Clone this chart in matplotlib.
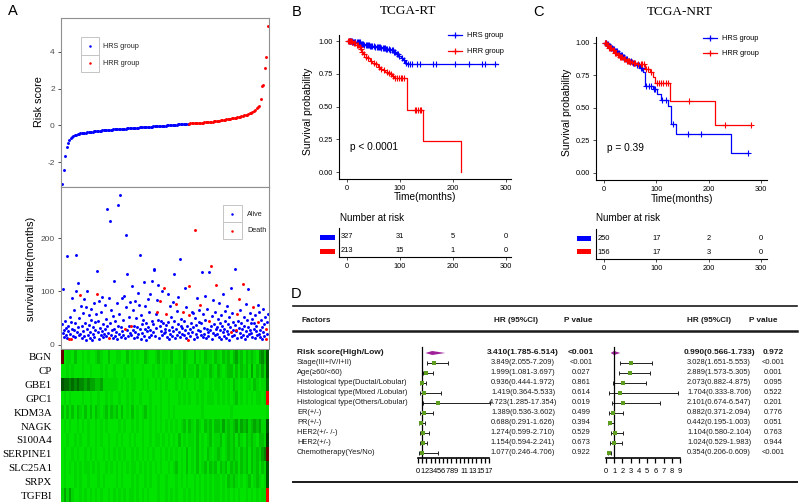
import numpy as np
import matplotlib
matplotlib.use("Agg")
import matplotlib.pyplot as plt
from matplotlib.colors import LinearSegmentedColormap, Normalize
from matplotlib.patches import Rectangle, Polygon
from matplotlib.ticker import FormatStrFormatter

plt.rcParams['font.family'] = ['Liberation Sans', 'DejaVu Sans']
plt.rcParams['axes.unicode_minus'] = False
SERIF = ['Liberation Serif', 'DejaVu Serif']

# ======================= DATA =======================
# Panel A: sorted risk scores (HRS group, then HRR group)
risk_hrs = [-3.2, -2.45, -1.66, -1.15, -0.95, -0.82, -0.70, -0.62, -0.57, -0.53,
            -0.50, -0.48, -0.46, -0.44, -0.43, -0.415, -0.40, -0.39, -0.38, -0.37,
            -0.36, -0.35, -0.34, -0.33, -0.32, -0.31, -0.30, -0.29, -0.28, -0.27,
            -0.265, -0.26, -0.25, -0.245, -0.24, -0.235, -0.23, -0.22, -0.215, -0.21,
            -0.205, -0.20, -0.195, -0.19, -0.18, -0.175, -0.17, -0.16, -0.155, -0.15,
            -0.14, -0.135, -0.13, -0.125, -0.12, -0.115, -0.11, -0.105, -0.10, -0.095,
            -0.09, -0.085, -0.08, -0.075, -0.07, -0.065, -0.06, -0.055, -0.05, -0.045,
            -0.04, -0.035, -0.03, -0.025, -0.015, -0.01, 0.0, 0.005, 0.01, 0.02,
            0.025, 0.03, 0.035, 0.04, 0.05, 0.055, 0.06, 0.07, 0.08, 0.085,
            0.09, 0.095]
risk_hrr = [0.10, 0.105, 0.11, 0.115, 0.12, 0.125, 0.13, 0.135, 0.14, 0.145,
            0.15, 0.16, 0.165, 0.175, 0.18, 0.19, 0.20, 0.21, 0.22, 0.23,
            0.24, 0.25, 0.26, 0.27, 0.285, 0.30, 0.31, 0.325, 0.34, 0.36,
            0.37, 0.38, 0.395, 0.41, 0.425, 0.44, 0.46, 0.48, 0.50, 0.52,
            0.545, 0.57, 0.59, 0.62, 0.66, 0.70, 0.75, 0.80, 0.86, 0.92, 1.0, 1.08,
            1.46, 2.13, 2.2, 3.1, 3.7, 5.4]

# Panel A: survival time (months) per patient, ordered by risk score
surv_months = [
    38, 22, 104, 15, 28, 45, 18, 31, 12, 166, 25, 36, 10, 52, 20, 42, 11, 30, 88, 17, 65, 27, 40, 14, 100, 169, 23, 116, 33, 19,
    50, 94, 21, 72, 35, 13, 60, 26, 85, 16, 41, 8, 70, 29, 101, 19, 55, 37, 12, 24, 46, 68, 9, 33, 20, 78, 15, 43, 27, 58,
    139, 96, 23, 44, 11, 83, 31, 18, 62, 25, 90, 14, 38, 20, 75, 29, 48, 16, 255, 35, 22, 87, 12, 233, 40, 19, 66, 27, 54, 13,
    30, 120, 17, 45, 24, 78, 10, 262, 36, 21, 58, 281, 14, 33, 88, 26, 47, 19, 92, 30, 12, 70, 206, 133, 28, 16, 52, 35, 80, 22,
    18, 35, 110, 27, 65, 13, 36, 82, 24, 50, 15, 34, 98, 20, 75, 169, 29, 11, 56, 38, 22, 46, 118, 17, 30, 72, 9, 41, 25, 86,
    33, 14, 62, 28, 95, 19, 44, 120, 23, 38, 140, 142, 16, 57, 31, 84, 61, 112, 47, 13, 35, 83, 26, 45, 18, 100, 40, 22, 107, 29,
    24, 58, 37, 15, 96, 42, 11, 28, 73, 20, 52, 33, 17, 80, 26, 133, 44, 12, 77, 30, 64, 19, 39, 90, 23, 14, 160, 48, 35, 21,
    31, 61, 18, 45, 27, 106, 13, 70, 36, 22, 8, 55, 111, 29, 16, 41, 62, 24, 60, 34, 11, 50, 216, 20, 37, 88, 15, 28, 66, 43,
    26, 75, 19, 40, 137, 14, 58, 32, 21, 92, 47, 12, 30, 68, 24, 16, 44, 136, 27, 35, 147, 10, 53, 22, 84, 38, 18, 62, 29, 113,
    33, 20, 49, 15, 78, 27, 41, 11, 56, 36, 23, 95, 17, 30, 64, 45, 13, 26, 72, 38, 20, 52, 9, 34, 107, 24, 60, 16, 42, 28,
    18, 37, 142, 26, 28, 58, 12, 44, 31, 86, 22, 66, 14, 40, 29, 114, 19, 52, 35, 10, 76, 25, 47, 16, 105, 33, 21, 60, 28, 40,
    22, 48, 15, 70, 30, 40, 12, 55, 26, 36, 18, 75, 42, 20, 62, 28, 14, 46, 33, 10, 68, 24, 38, 16, 52, 30, 11, 43, 20, 58]
# vital status (1 = death) for the patients above
surv_dead = ("000000000000100010000000000000"
             "010000000000000000000000000000"
             "010000000000000000000010000000"
             "000000000000000000010000000000"
             "010000000000000000000000000000"
             "000000000000000010000100000010"
             "010000000000000000100000000000"
             "010000000011100000000010000000"
             "010000000000000010001000000001"
             "000000000000000000000000010000"
             "000011000100000100000000000000"
             "000100000000100000000000011000")

genes = ['BGN', 'CP', 'GBE1', 'GPC1', 'KDM3A', 'NAGK', 'S100A4',
         'SERPINE1', 'SLC25A1', 'SRPX', 'TGFBI']
# expression codes: '9' = strongly low (bright green) ... '0' = mid (black), 'b'/'r' = high
heat_rows = [
    "b988979989" "8998789979" "9889979898" "9978998798" "8979989789" "9798978897" "8978797687" "9787896573",
    "9989899989" "9899989899" "8999899899" "9899989898" "9989889798" "8979889789" "7898779797" "8796978683",
    "3445454556" "5667768888" "8898989889" "9898998989" "8999898989" "9898899898" "8989897898" "9889789884",
    "9898999989" "9899899898" "9989989899" "8999899989" "9899989898" "9989898889" "8989898798" "989898898r",
    "7979797897" "9797898797" "8797989798" "9879898989" "9898999999" "9999899999" "9999989999" "9999999998",
    "9898998989" "8998989899" "9989899898" "9899898989" "8989898797" "8978978797" "7868787686" "7687676883",
    "9989989899" "8998989989" "9898998989" "9899898898" "9898979898" "8979898798" "8798787978" "9787897782",
    "9899898998" "9898998989" "8989899898" "9898989989" "8989898979" "8979897898" "7898787897" "879787865b",
    "9898989898" "8989899898" "9898989889" "8989898989" "9898798979" "8979879787" "9787978797" "8797879783",
    "9899989899" "8999898999" "9898999898" "9989899899" "8999898989" "9898989898" "8989787898" "9879878983",
    "8686899898" "9898989989" "8989898898" "9898999899" "8989899898" "9898989898" "8989898989" "989898988r"]
heat_code = {'9': -1.0, '8': -0.94, '7': -0.84, '6': -0.72, '5': -0.6, '4': -0.47,
             '3': -0.36, '2': -0.25, '1': -0.12, '0': 0.0, 'b': 0.4, 'r': 0.95}

# Panel B: TCGA-RT Kaplan-Meier
rt_hrs_t = [0, 10, 18, 25, 32, 42, 52, 63, 72, 80, 87, 92, 97, 101, 105, 109, 113]
rt_hrs_s = [1.0, 0.995, 0.99, 0.98, 0.97, 0.965, 0.957, 0.95, 0.94, 0.93, 0.914, 0.90, 0.885, 0.87, 0.855, 0.835, 0.822]
rt_hrs_end = 285
rt_hrs_cens = [3, 5, 6, 8, 9, 11, 13, 15, 16, 19, 21, 23, 24, 26, 28, 30, 33, 35, 37, 39, 41, 44, 46, 48, 50,
               53, 56, 58, 60, 62, 64, 67, 69, 71, 74, 76, 79, 82, 84, 86, 89, 91, 94, 96, 99, 103, 107, 111,
               115, 119, 122, 133, 137, 163, 167, 204, 231, 254, 261, 279]
rt_hrr_t = [0, 8, 12, 18, 22, 25, 28, 31, 35, 38, 43, 48, 53, 58, 62, 67, 72, 77, 81, 85, 88, 112.6, 144, 214.5]
rt_hrr_s = [1.0, 0.995, 0.985, 0.97, 0.955, 0.94, 0.92, 0.9, 0.88, 0.868, 0.85, 0.835, 0.822, 0.805, 0.79,
            0.778, 0.766, 0.755, 0.745, 0.73, 0.715, 0.477, 0.238, 0.0]
rt_hrr_end = 214.5
rt_hrr_cens = [2, 4, 6, 7, 9, 10, 14, 16, 19, 21, 24, 27, 29, 33, 36, 40, 45, 50, 55, 60, 65, 70, 75, 80,
               83, 87, 90, 94, 98, 101, 104, 108, 128, 131, 134, 137, 140]
rt_p = "p < 0.0001"
rt_risk_hrs = [327, 31, 5, 0]
rt_risk_hrr = [213, 15, 1, 0]

# Panel C: TCGA-NRT Kaplan-Meier
nrt_hrs_t = [0, 4, 8, 12, 16, 20, 25, 30, 35, 40, 46, 52, 60, 68, 74, 78, 93, 102, 108, 123, 128, 137, 243]
nrt_hrs_s = [1.0, 0.99, 0.98, 0.965, 0.95, 0.935, 0.92, 0.905, 0.89, 0.875, 0.86, 0.845, 0.83, 0.81, 0.78,
             0.672, 0.645, 0.61, 0.56, 0.515, 0.375, 0.30, 0.15]
nrt_hrs_end = 275
nrt_hrs_cens = [2, 3, 5, 7, 9, 11, 13, 15, 17, 19, 22, 24, 27, 29, 32, 34, 37, 39, 42, 44, 48, 51, 55, 58,
                63, 66, 70, 72, 81, 86, 90, 96, 98, 111, 118, 131, 160, 186, 275]
nrt_hrr_t = [0, 5, 10, 15, 20, 25, 30, 36, 42, 48, 55, 62, 78, 87, 93, 97, 127, 212]
nrt_hrr_s = [1.0, 0.985, 0.965, 0.945, 0.925, 0.905, 0.89, 0.875, 0.865, 0.855, 0.845, 0.84, 0.80, 0.78,
             0.735, 0.695, 0.556, 0.37]
nrt_hrr_end = 280
nrt_hrr_cens = [1, 3, 4, 6, 8, 10, 12, 14, 17, 19, 21, 23, 26, 28, 31, 33, 35, 38, 40, 43, 45, 47, 50, 53,
                57, 60, 65, 70, 73, 76, 80, 84, 89, 101, 105, 109, 113, 118, 122, 163, 232, 280]
nrt_p = "p = 0.39"
nrt_risk_hrs = [250, 17, 2, 0]
nrt_risk_hrr = [156, 17, 3, 0]
risk_times = [0, 100, 200, 300]

# Panel D: Cox regression
factors = ['Risk score(High/Low)', 'Stage(III+IV/I+II)', 'Age(\u226560/<60)',
           'Histological type(Ductal/Lobular)', 'Histological type(Mixed /Lobular)',
           'Histological type(Others/Lobular)', 'ER(+/-)', 'PR(+/-)', 'HER2(+/- /-)',
           'HER2(+/-)', 'Chemotherapy(Yes/No)']
rt_hr = [3.410, 3.849, 1.999, 0.936, 1.419, 4.723, 1.389, 0.688, 1.274, 1.154, 1.077]
rt_lo = [1.785, 2.055, 1.081, 0.444, 0.364, 1.285, 0.536, 0.291, 0.599, 0.594, 0.246]
rt_hi = [6.514, 7.209, 3.697, 1.972, 5.533, 17.354, 3.602, 1.626, 2.710, 2.241, 4.706]
rt_pv = ['<0.001', '<0.001', '0.027', '0.861', '0.614', '0.019', '0.499', '0.394', '0.529', '0.673', '0.922']
nrt_hr = [0.990, 3.028, 2.889, 2.073, 1.704, 2.101, 0.882, 0.442, 1.104, 1.024, 0.354]
nrt_lo = [0.566, 1.651, 1.573, 0.882, 0.333, 0.674, 0.371, 0.195, 0.580, 0.529, 0.206]
nrt_hi = [1.733, 5.553, 5.305, 4.875, 8.706, 6.547, 2.094, 1.003, 2.104, 1.983, 0.609]
nrt_pv = ['0.972', '<0.001', '0.001', '0.095', '0.522', '0.201', '0.776', '0.051', '0.763', '0.944', '<0.001']

# ======================= FIGURE =======================
W, H = 800, 503
fig = plt.figure(figsize=(W / 100, H / 100), dpi=100)
fig.patch.set_facecolor('white')


def px_axes(l, t, r, b, **kw):
    return fig.add_axes([l / W, 1 - b / H, (r - l) / W, (b - t) / H], **kw)


ov = fig.add_axes([0, 0, 1, 1], zorder=20)
ov.set_xlim(0, W)
ov.set_ylim(H, 0)
ov.axis('off')
ov.patch.set_alpha(0)


def T(x, y, s, **kw):
    kw.setdefault('va', 'center')
    ov.text(x, y, s, **kw)


BORDER = '#8f8f8f'
TGRAY = '#4d4d4d'


def bw(ax):
    for sp in ax.spines.values():
        sp.set_color(BORDER)
        sp.set_linewidth(0.8)
    ax.tick_params(axis='y', length=2.5, width=0.6, color='#333333',
                   labelcolor=TGRAY, labelsize=6, pad=2)


# ---- A: risk score ----
axr = px_axes(61, 18, 269, 187)
nb, nr = len(risk_hrs), len(risk_hrr)
axr.scatter(np.arange(nb), risk_hrs, s=4.5, color='blue', lw=0)
axr.scatter(np.arange(nb, nb + nr), risk_hrr, s=4.5, color='red', lw=0)
axr.set_xlim(-1, nb + nr)
axr.set_ylim(-3.35, 5.84)
axr.set_yticks([-2, 0, 2, 4])
axr.set_xticks([])
bw(axr)

# ---- A: survival scatter ----
axs = px_axes(61, 187, 269, 349)
sv = np.array(surv_months, dtype=float)
dead = np.array([c == '1' for c in surv_dead])
xs = np.arange(len(sv))
axs.scatter(xs[~dead], sv[~dead], s=4.5, color='blue', lw=0)
axs.scatter(xs[dead], sv[dead], s=4.5, color='red', lw=0)
axs.set_xlim(-2, len(sv) + 1)
axs.set_ylim(-8, 296)
axs.set_yticks([0, 100, 200])
axs.set_xticks([])
bw(axs)

# ---- A: heatmap ----
mat = np.array([[heat_code[c] for c in row] for row in heat_rows])
cmap = LinearSegmentedColormap.from_list('gbr', ['#00e400', '#000000', '#ff0000'])
axh = px_axes(61, 350, 269, 502)
axh.imshow(mat, aspect='auto', cmap=cmap, norm=Normalize(-1, 1), interpolation='nearest')
axh.set_yticks(range(len(genes)))
axh.set_yticklabels(genes, fontfamily=SERIF, fontsize=7.8)
axh.tick_params(axis='y', length=0, pad=6.5)
axh.set_xticks([])
for sp in axh.spines.values():
    sp.set_visible(False)

# A labels & legends
T(8, 11, 'A', fontsize=10.5)
T(39, 102, 'Risk score', rotation=90, ha='center', fontsize=7.8)
T(31, 269, 'survival time(months)', rotation=90, ha='center', fontsize=7.8)
for (l, t, r, b) in [(81, 37, 99, 55), (81, 55, 99, 72), (223, 205, 242, 222), (223, 222, 242, 239)]:
    ov.add_patch(Rectangle((l, t), r - l, b - t, fill=False, ec='#c4c4c4', lw=0.7))
ov.plot([90], [46], 'o', color='blue', ms=1.8, mew=0)
ov.plot([90], [63], 'o', color='red', ms=1.8, mew=0)
T(103, 46, 'HRS group', fontsize=5.2, color='#222222')
T(103, 63, 'HRR group', fontsize=5.2, color='#222222')
ov.plot([232], [214], 'o', color='blue', ms=1.8, mew=0)
ov.plot([232], [231], 'o', color='red', ms=1.8, mew=0)
T(247, 214, 'Alive', fontsize=5.2, color='#222222')
T(247, 231, 'Death', fontsize=5.2, color='#222222')


# ---- KM helpers ----
def km(ax, t, s, end, cens, color):
    tt = list(t) + [end]
    ss = list(s) + [s[-1]]
    ax.step(tt, ss, where='post', color=color, lw=0.9)
    c = np.array(cens, dtype=float)
    idx = np.searchsorted(t, c, side='right') - 1
    ax.plot(c, np.array(s)[idx], '+', color=color, ms=4.5, mew=0.8, ls='none')


def km_axes(ax, xlim, ylim):
    ax.set_xlim(*xlim)
    ax.set_ylim(*ylim)
    ax.set_xticks(risk_times)
    ax.set_yticks([0, 0.25, 0.5, 0.75, 1.0])
    ax.yaxis.set_major_formatter(FormatStrFormatter('%.2f'))
    for k in ['top', 'right']:
        ax.spines[k].set_visible(False)
    for k in ['left', 'bottom']:
        ax.spines[k].set_linewidth(0.8)
    ax.tick_params(length=2.5, width=0.6, labelsize=5.3, pad=2, color='#333333')
    ax.patch.set_alpha(0)


def risk_table(ax, xlim, hrs, hrr):
    ax.set_xlim(*xlim)
    ax.set_ylim(1.43, -0.643)
    for k in ['top', 'right']:
        ax.spines[k].set_visible(False)
    for k in ['left', 'bottom']:
        ax.spines[k].set_linewidth(0.8)
    ax.set_yticks([])
    ax.set_xticks(risk_times)
    ax.tick_params(length=2.5, width=0.6, labelsize=5.3, pad=2, color='#333333')
    for tm, a, b in zip(risk_times, hrs, hrr):
        ax.text(tm, 0, str(a), ha='center', va='center', fontsize=5.4)
        ax.text(tm, 1, str(b), ha='center', va='center', fontsize=5.4)


# ---- B ----
xl_b = (-15.1, 309.4)
axb = px_axes(339, 35, 511, 179)
km(axb, rt_hrs_t, rt_hrs_s, rt_hrs_end, rt_hrs_cens, 'blue')
km(axb, rt_hrr_t, rt_hrr_s, rt_hrr_end, rt_hrr_cens, 'red')
km_axes(axb, xl_b, (-0.053, 1.046))
axbt = px_axes(339, 228, 511, 257)
risk_table(axbt, xl_b, rt_risk_hrs, rt_risk_hrr)
T(292, 12, 'B', fontsize=10.5)
T(408, 11, 'TCGA-RT', ha='center', fontsize=9.5, family=SERIF)
T(308, 111, 'Survival probability', rotation=90, ha='center', fontsize=7.5)
T(425, 197, 'Time(months)', ha='center', fontsize=7.3)
T(350, 147, rt_p, fontsize=7.3)
T(340, 218, 'Number at risk', fontsize=7.1)
ov.plot([448, 462], [35, 35], color='blue', lw=0.9)
ov.plot([455], [35], '+', color='blue', ms=5, mew=0.9)
ov.plot([448, 462], [51, 51], color='red', lw=0.9)
ov.plot([455], [51], '+', color='red', ms=5, mew=0.9)
T(467, 35, 'HRS group', fontsize=5.3)
T(467, 51, 'HRR group', fontsize=5.3)
ov.add_patch(Rectangle((320, 235), 15, 5, color='blue', lw=0))
ov.add_patch(Rectangle((320, 248.5), 15, 5, color='red', lw=0))

# ---- C ----
xl_c = (-15.3, 311.5)
axc = px_axes(596, 37, 767, 180)
km(axc, nrt_hrs_t, nrt_hrs_s, nrt_hrs_end, nrt_hrs_cens, 'blue')
km(axc, nrt_hrr_t, nrt_hrr_s, nrt_hrr_end, nrt_hrr_cens, 'red')
km_axes(axc, xl_c, (-0.054, 1.046))
axct = px_axes(596, 229, 767, 259)
risk_table(axct, xl_c, nrt_risk_hrs, nrt_risk_hrr)
T(533, 12, 'C', fontsize=10.5)
T(680, 12, 'TCGA-NRT', ha='center', fontsize=9.5, family=SERIF)
T(567, 112, 'Survival probability', rotation=90, ha='center', fontsize=7.5)
T(682, 199, 'Time(months)', ha='center', fontsize=7.3)
T(607, 148, nrt_p, fontsize=7.3)
T(596, 218, 'Number at risk', fontsize=7.1)
ov.plot([703, 717], [38, 38], color='blue', lw=0.9)
ov.plot([710], [38], '+', color='blue', ms=5, mew=0.9)
ov.plot([703, 717], [53, 53], color='red', lw=0.9)
ov.plot([710], [53], '+', color='red', ms=5, mew=0.9)
T(722, 38, 'HRS group', fontsize=5.3)
T(722, 53, 'HRR group', fontsize=5.3)
ov.add_patch(Rectangle((577, 235.5), 14, 5, color='blue', lw=0))
ov.add_patch(Rectangle((577, 248.5), 14, 5, color='red', lw=0))

# ---- D ----
T(291, 294, 'D', fontsize=10.5)
ov.plot([293, 797], [306, 306], color='#1a1a1a', lw=1.2)
ov.plot([293, 797], [331, 331], color='#1a1a1a', lw=1.8)
ov.plot([293, 797], [482, 482], color='#1a1a1a', lw=1.4)
hdr = dict(fontsize=5.9, fontweight='bold', color='#1a1a1a')
T(302, 320, 'Factors', **hdr)
T(516, 320, 'HR (95%CI)', ha='center', **hdr)
T(578, 320, 'P value', ha='center', **hdr)
T(709, 320, 'HR (95%CI)', ha='center', **hdr)
T(763, 320, 'P value', ha='center', **hdr)

row_y0, row_dy = 353, 10
for i, f in enumerate(factors):
    y = row_y0 + i * row_dy
    bold = dict(fontweight='bold', fontsize=6.0) if i == 0 else dict(fontsize=5.4)
    T(297, y, f, color='#1a1a1a', **bold)
    T(523, y, f"{rt_hr[i]:.3f}({rt_lo[i]:.3f}-{rt_hi[i]:.3f})", ha='center', color='#1a1a1a', **bold)
    T(581, y, rt_pv[i], ha='center', color='#1a1a1a', **bold)
    T(719, y, f"{nrt_hr[i]:.3f}({nrt_lo[i]:.3f}-{nrt_hi[i]:.3f})", ha='center', color='#1a1a1a', **bold)
    T(773, y, nrt_pv[i], ha='center', color='#1a1a1a', **bold)


def forest(ax, hr, lo, hi, xmax, ticklabels):
    n = len(hr)
    ax.set_xlim(-0.5, xmax + 0.5)
    ax.set_ylim(n - 0.5, -0.6)
    d = Polygon([(lo[0], 0), (hr[0], -0.2), (hi[0], 0), (hr[0], 0.2)], closed=True,
                color='#a0209a', lw=0)
    ax.add_patch(d)
    rows = np.arange(1, n)
    h = np.array(hr[1:])
    ax.errorbar(h, rows, xerr=[h - np.array(lo[1:]), np.array(hi[1:]) - h], fmt='none',
                ecolor='#222222', elinewidth=0.7, capsize=1.4, capthick=0.7)
    ax.plot(h, rows, 's', color='#5e9e1e', ms=3.2, mew=0, ls='none', zorder=3)
    for k in ['top', 'right']:
        ax.spines[k].set_visible(False)
    ax.spines['left'].set_position(('data', 1))
    ax.spines['left'].set_linewidth(0.9)
    ax.spines['bottom'].set_bounds(0, xmax)
    ax.spines['bottom'].set_linewidth(1.2)
    ax.set_yticks([])
    ax.set_xticks(range(xmax + 1))
    ax.set_xticklabels(ticklabels)
    ax.tick_params(axis='x', direction='out', length=3.4, width=0.9, labelsize=5.4, pad=4)
    ax.patch.set_alpha(0)


f1_labels = [str(i) if (i < 10 or i % 2 == 1) else '' for i in range(18)]
ax1 = px_axes(415.9, 347, 491.1, 458)
forest(ax1, rt_hr, rt_lo, rt_hi, 17, f1_labels)
ax2 = px_axes(601.9, 347, 684.1, 458)
forest(ax2, nrt_hr, nrt_lo, nrt_hi, 9, [str(i) for i in range(10)])

fig.savefig('out.png', dpi=100, facecolor='white')
